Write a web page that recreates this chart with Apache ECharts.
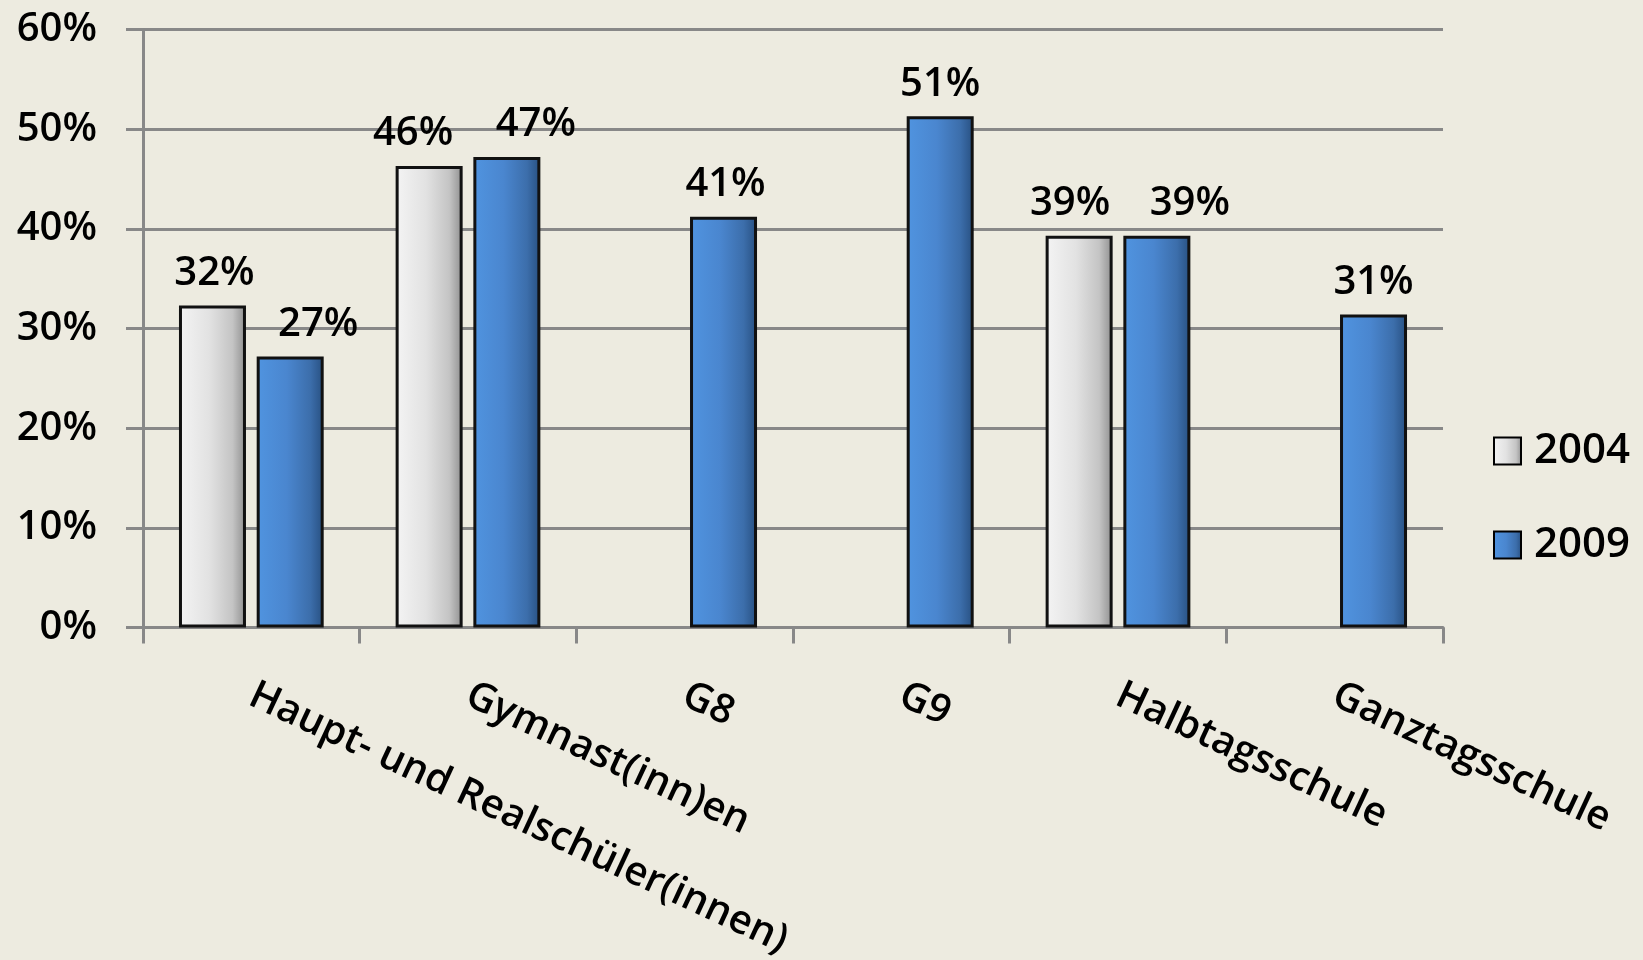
<!DOCTYPE html>
<html>
<head>
<meta charset="utf-8">
<script src="https://cdn.jsdelivr.net/npm/echarts@6/dist/echarts.min.js"></script>
<style>
html,body{margin:0;padding:0;background:#EDEBE0;}
#c{width:1643px;height:960px;}
</style>
</head>
<body>
<div id="c"></div>
<script>
const categories = ['Haupt- und Realschüler(innen)', 'Gymnast(inn)en', 'G8', 'G9', 'Halbtagsschule', 'Ganztagsschule'];
const seriesNames = ['2004', '2009'];
const values2004 = [32.3, 46.3, null, null, 39.3, null];
const values2009 = [27.2, 47.2, 41.2, 51.3, 39.3, 31.4];
const yTicks = [0, 10, 20, 30, 40, 50, 60];

// label nudges (styling only)
const nudge2004 = [2, -16, 0, 0, -9, 0];
const nudge2009 = [28, 29, 2, 0, 33, 0];

const FONT = '"Open Sans", "Noto Sans", sans-serif';
const W = 600;
const grey = {type:'linear',x:0,y:0,x2:1,y2:0,colorStops:[
  {offset:0,color:'#f4f4f4'},{offset:0.45,color:'#e2e2e2'},{offset:0.8,color:'#c4c4c4'},{offset:1,color:'#8e8e8e'}]};
const blue = {type:'linear',x:0,y:0,x2:1,y2:0,colorStops:[
  {offset:0,color:'#5094e0'},{offset:0.45,color:'#4a86cf'},{offset:0.8,color:'#3c6eab'},{offset:1,color:'#274f80'}]};

function mk(vals, nudges){
  return vals.map((v,i)=> v==null ? null : {value:v, label:{offset:[nudges[i],0]}});
}

const chart = echarts.init(document.getElementById('c'));
chart.setOption({
  backgroundColor:'#EDEBE0',
  animation:false,
  grid:{left:143, right:200, top:29.5, bottom:332.5, containLabel:false, outerBoundsMode:'none'},
  legend:{
    orient:'vertical', left:1488, top:425,
    itemWidth:27, itemHeight:27, itemGap:52,
    textStyle:{fontSize:42, fontWeight:W, fontFamily:FONT, color:'#000', padding:[0,0,0,8]},
    data:[
      {name:'2004', icon:'rect', itemStyle:{color:grey, borderColor:'#000', borderWidth:2}},
      {name:'2009', icon:'rect', itemStyle:{color:blue, borderColor:'#000', borderWidth:2}}
    ]
  },
  xAxis:{
    type:'category', data:categories,
    axisLine:{show:true, lineStyle:{color:'#888', width:3}},
    axisTick:{show:true, length:16, lineStyle:{color:'#888', width:3}},
    axisLabel:{rotate:-25, margin:66, fontSize:40, fontWeight:W, fontFamily:FONT, color:'#000', interval:0}
  },
  yAxis:{
    type:'value', min:0, max:60, interval:10,
    axisLine:{show:true, lineStyle:{color:'#888', width:3}},
    axisTick:{show:true, length:17, lineStyle:{color:'#888', width:3}},
    splitLine:{show:true, lineStyle:{color:'#888', width:3}},
    axisLabel:{margin:46, fontSize:40, fontWeight:W, fontFamily:FONT, color:'#000',
      formatter:(v)=> yTicks.includes(v) ? v + '%' : ''}
  },
  series:[
    {name:seriesNames[0], type:'bar', data:mk(values2004, nudge2004), barWidth:67, barGap:'16%',
     itemStyle:{color:grey, borderColor:'#111', borderWidth:3},
     label:{show:true, position:'top', distance:12, fontSize:40, fontWeight:W, fontFamily:FONT, color:'#000',
       formatter:(p)=> Math.round(p.value) + '%'}},
    {name:seriesNames[1], type:'bar', data:mk(values2009, nudge2009), barWidth:67, barGap:'16%',
     itemStyle:{color:blue, borderColor:'#111', borderWidth:3},
     label:{show:true, position:'top', distance:12, fontSize:40, fontWeight:W, fontFamily:FONT, color:'#000',
       formatter:(p)=> Math.round(p.value) + '%'}}
  ]
});
</script>
</body>
</html>
